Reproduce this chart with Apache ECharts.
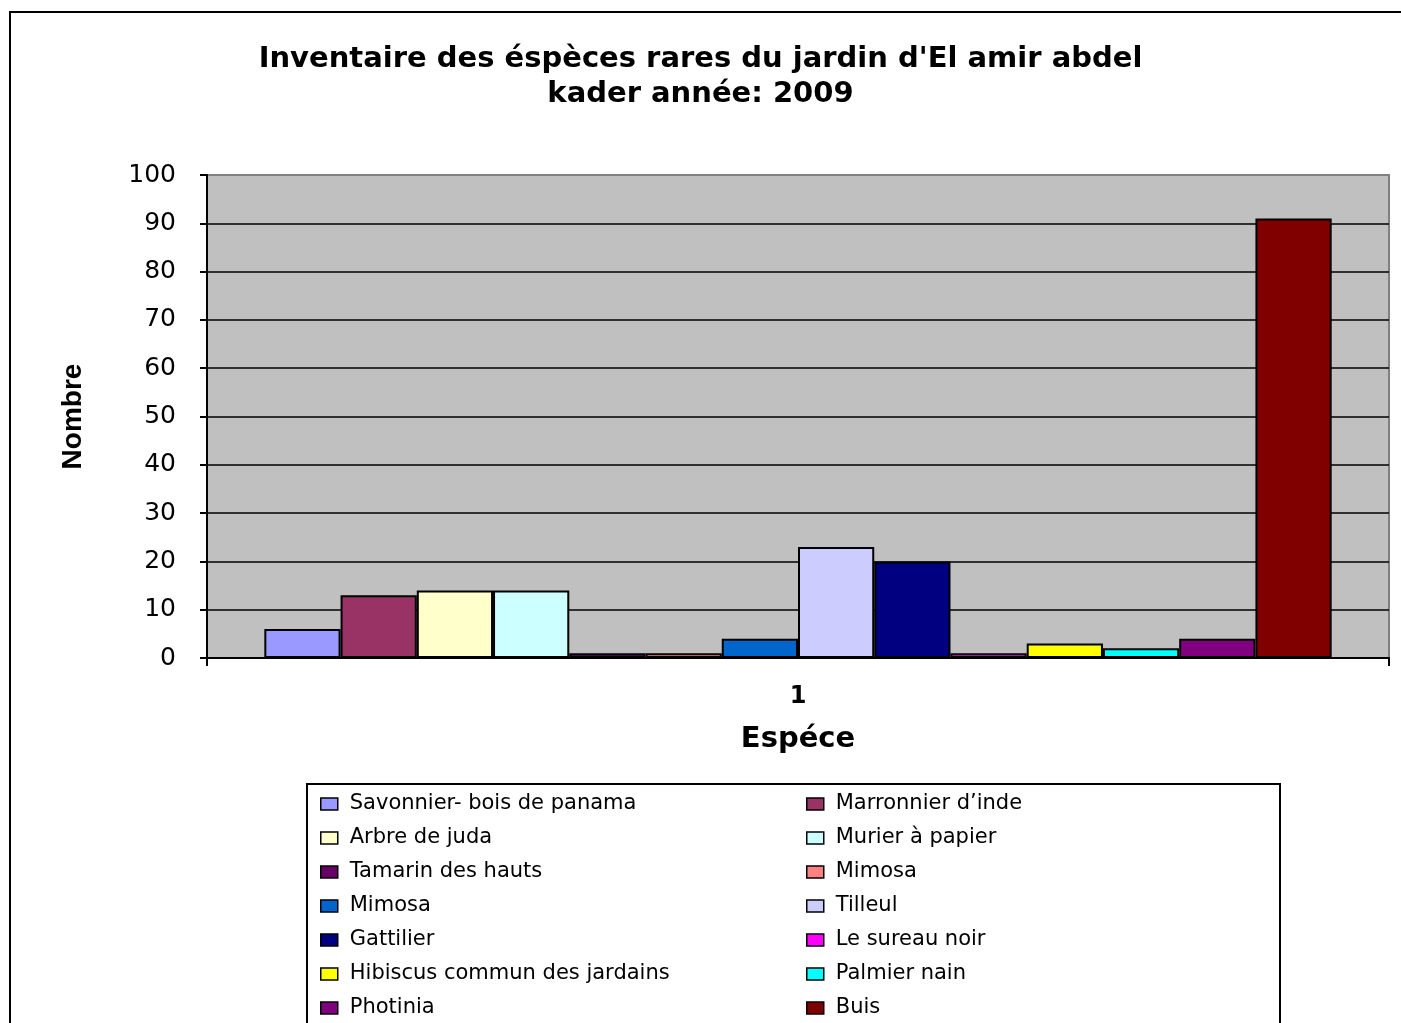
<!DOCTYPE html>
<html>
<head>
<meta charset="utf-8">
<title>Inventaire des éspèces rares</title>
<script src="https://cdn.jsdelivr.net/npm/echarts@6/dist/echarts.min.js"></script>
<style>
  html, body { margin: 0; padding: 0; background: #fff; }
  #chart { width: 1401px; height: 1023px; }
</style>
</head>
<body>
<div id="chart"></div>
<script>
// une seule catégorie sur l'axe X
const categories = ['1']

// espèces (le deuxième "Mimosa" a un espace en plus pour que la légende garde sa couleur)
const speciesNames = [
  'Savonnier- bois de panama',
  'Marronnier d\u2019inde',
  'Arbre de juda',
  'Murier à papier',
  'Tamarin des hauts',
  'Mimosa',
  'Mimosa ',
  'Tilleul',
  'Gattilier',
  'Le sureau noir',
  'Hibiscus commun des jardains',
  'Palmier nain',
  'Photinia',
  'Buis'
]

// nombre d'individus par espèce
const speciesCounts = [6, 13, 14, 14, 1, 1, 4, 23, 20, 1, 3, 2, 4, 91]

const speciesColors = [
  '#9999FF', '#993366', '#FFFFCC', '#CCFFFF', '#660066', '#FF8080', '#0066CC',
  '#CCCCFF', '#000080', '#FF00FF', '#FFFF00', '#00FFFF', '#800080', '#800000'
]

const yTicks = [0, 10, 20, 30, 40, 50, 60, 70, 80, 90, 100]

const chart = echarts.init(document.getElementById('chart'))

const series = speciesNames.map((name, i) => ({
  name,
  type: 'bar',
  data: [speciesCounts[i]],
  barGap: '0%',
  barCategoryGap: '9.7%',
  itemStyle: {
    color: speciesColors[i],
    borderColor: '#000',
    borderWidth: 2
  }
}))

// légende sur deux colonnes : éléments pairs à gauche, impairs à droite
const leftNames = speciesNames.filter((_, i) => i % 2 === 0)
const rightNames = speciesNames.filter((_, i) => i % 2 === 1)

const legendBase = {
  orient: 'vertical',
  top: 793,
  height: 300,
  padding: 0,
  itemWidth: 17,
  itemHeight: 12,
  itemGap: 12,
  selectedMode: false,
  icon: 'rect',
  itemStyle: { borderColor: '#000', borderWidth: 1.5 },
  textStyle: {
    fontFamily: 'DejaVu Sans',
    fontSize: 21,
    lineHeight: 22,
    color: '#000',
    padding: [0, 0, 0, 7]
  }
}

// lignes de grille noires, sauf la ligne du haut (bord gris du tracé)
const splitColors = yTicks.map(v => (v === 100 ? '#808080' : '#000'))

chart.setOption({
  animation: false,
  backgroundColor: '#fff',
  title: {
    text: 'Inventaire des éspèces rares du jardin d\'El amir abdel\nkader année: 2009',
    left: 'center',
    top: 37,
    textStyle: {
      fontFamily: 'DejaVu Sans',
      fontWeight: 'bold',
      fontSize: 29,
      lineHeight: 35,
      color: '#000'
    }
  },
  legend: [
    Object.assign({}, legendBase, { left: 320, data: leftNames }),
    Object.assign({}, legendBase, { left: 806, data: rightNames })
  ],
  grid: {
    left: 207,
    right: 12,
    top: 175,
    bottom: 365,
    show: true,
    backgroundColor: '#C0C0C0',
    borderColor: '#808080',
    borderWidth: 2
  },
  xAxis: {
    type: 'category',
    data: categories,
    name: 'Espéce',
    nameLocation: 'middle',
    nameGap: 67,
    nameTextStyle: {
      fontFamily: 'DejaVu Sans',
      fontWeight: 'bold',
      fontSize: 29,
      color: '#000'
    },
    axisLine: { lineStyle: { color: '#000', width: 2 } },
    axisTick: { show: true, length: 8, lineStyle: { color: '#000', width: 2 } },
    axisLabel: {
      margin: 27,
      fontFamily: 'DejaVu Sans',
      fontWeight: 'bold',
      fontSize: 24,
      color: '#000'
    }
  },
  yAxis: {
    type: 'value',
    min: 0,
    max: 100,
    interval: 10,
    name: 'Nombre',
    nameLocation: 'middle',
    nameGap: 120,
    nameTextStyle: {
      fontFamily: 'Liberation Sans',
      fontWeight: 'bold',
      fontSize: 28,
      color: '#000'
    },
    axisLine: { show: true, lineStyle: { color: '#000', width: 2 } },
    axisTick: { show: true, length: 7, lineStyle: { color: '#000', width: 2 } },
    axisLabel: {
      margin: 31,
      fontFamily: 'DejaVu Sans',
      fontSize: 25,
      color: '#000'
    },
    splitLine: { show: true, lineStyle: { color: splitColors, width: 1.5 } }
  },
  graphic: [
    {
      // cadre extérieur du graphique
      type: 'rect',
      shape: { x: 10, y: 12, width: 1400, height: 1020 },
      style: { fill: 'none', stroke: '#000', lineWidth: 2 },
      silent: true
    },
    {
      // cadre de la légende
      type: 'rect',
      shape: { x: 307, y: 784, width: 973, height: 260 },
      style: { fill: 'none', stroke: '#000', lineWidth: 2 },
      silent: true
    }
  ],
  series
})
</script>
</body>
</html>
